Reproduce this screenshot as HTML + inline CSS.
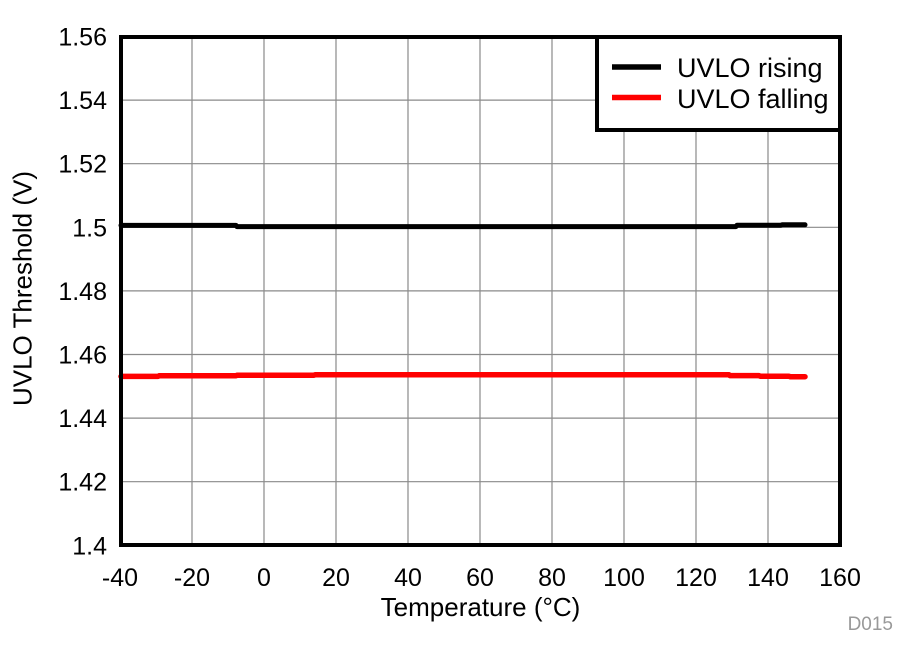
<!DOCTYPE html>
<html>
<head>
<meta charset="utf-8">
<style>
  html, body { margin: 0; padding: 0; background: #fff; }
  svg { display: block; }
  text { font-family: "Liberation Sans", Arial, sans-serif; fill: #000; }
</style>
</head>
<body>
<svg width="899" height="660" viewBox="0 0 899 660" xmlns="http://www.w3.org/2000/svg">
  <rect x="0" y="0" width="899" height="660" fill="#fff"/>
  <!-- grid -->
  <g stroke="#8a8a8a" stroke-width="1.2">
    <line x1="192" y1="37" x2="192" y2="545"/>
    <line x1="264" y1="37" x2="264" y2="545"/>
    <line x1="336" y1="37" x2="336" y2="545"/>
    <line x1="408" y1="37" x2="408" y2="545"/>
    <line x1="480" y1="37" x2="480" y2="545"/>
    <line x1="552" y1="37" x2="552" y2="545"/>
    <line x1="624" y1="37" x2="624" y2="545"/>
    <line x1="696" y1="37" x2="696" y2="545"/>
    <line x1="768" y1="37" x2="768" y2="545"/>
    <line x1="121" y1="100.1" x2="840" y2="100.1"/>
    <line x1="121" y1="163.7" x2="840" y2="163.7"/>
    <line x1="121" y1="227.3" x2="840" y2="227.3"/>
    <line x1="121" y1="290.9" x2="840" y2="290.9"/>
    <line x1="121" y1="354.5" x2="840" y2="354.5"/>
    <line x1="121" y1="418.1" x2="840" y2="418.1"/>
    <line x1="121" y1="481.7" x2="840" y2="481.7"/>
  </g>
  <!-- data -->
  <polyline fill="none" stroke="#000" stroke-width="5" stroke-linecap="round" stroke-linejoin="round"
    points="121,225.4 236,225.4 237,226.6 736,226.6 737,225.2 781,225.2 782,224.8 805,224.8"/>
  <polyline fill="none" stroke="#ff0000" stroke-width="5.5" stroke-linecap="round" stroke-linejoin="round"
    points="121,376.4 158,376.4 159,375.8 236,375.8 237,375.2 314,375.2 315,374.8 729,374.8 730,375.6 759,375.6 760,376.2 789,376.2 790,376.7 805,376.7"/>
  <!-- frame -->
  <rect x="121" y="37" width="719" height="508" fill="none" stroke="#000" stroke-width="4"/>
  <!-- legend -->
  <rect x="597" y="37" width="243" height="93" fill="#fff" stroke="#000" stroke-width="4"/>
  <line x1="612" y1="67" x2="661" y2="67" stroke="#000" stroke-width="5.5"/>
  <line x1="612" y1="97.5" x2="661" y2="97.5" stroke="#ff0000" stroke-width="5.5"/>
  <text x="677" y="77" font-size="27">UVLO rising</text>
  <text x="677" y="108" font-size="27">UVLO falling</text>
  <!-- y tick labels -->
  <g font-size="25" text-anchor="end">
    <text x="107" y="45.5">1.56</text>
    <text x="107" y="109.1">1.54</text>
    <text x="107" y="172.7">1.52</text>
    <text x="107" y="236.3">1.5</text>
    <text x="107" y="299.9">1.48</text>
    <text x="107" y="363.5">1.46</text>
    <text x="107" y="427.1">1.44</text>
    <text x="107" y="490.7">1.42</text>
    <text x="107" y="554.3">1.4</text>
  </g>
  <!-- x tick labels -->
  <g font-size="25" text-anchor="middle">
    <text x="120" y="586">-40</text>
    <text x="192" y="586">-20</text>
    <text x="264" y="586">0</text>
    <text x="336" y="586">20</text>
    <text x="408" y="586">40</text>
    <text x="480" y="586">60</text>
    <text x="552" y="586">80</text>
    <text x="624" y="586">100</text>
    <text x="696" y="586">120</text>
    <text x="768" y="586">140</text>
    <text x="840" y="586">160</text>
  </g>
  <!-- axis titles -->
  <text x="480.5" y="616" font-size="26" text-anchor="middle">Temperature (°C)</text>
  <text transform="translate(31.5,288.5) rotate(-90)" font-size="26" text-anchor="middle">UVLO Threshold (V)</text>
  <text x="893" y="630" font-size="19" text-anchor="end" style="fill:#999">D015</text>
</svg>
</body>
</html>
